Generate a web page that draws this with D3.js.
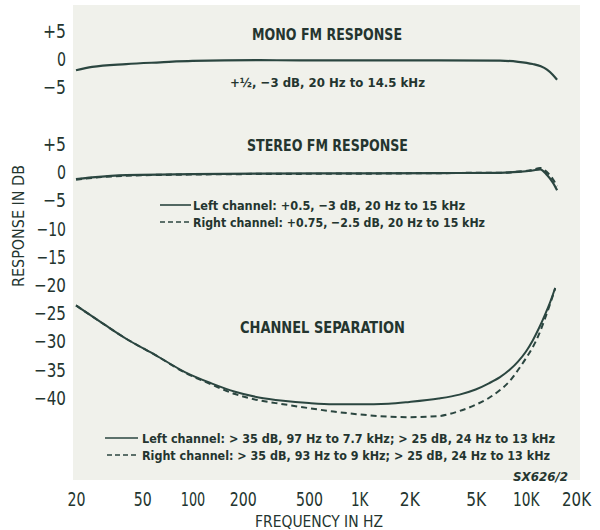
<!DOCTYPE html>
<html>
<head>
<meta charset="utf-8">
<script src="https://cdn.jsdelivr.net/npm/d3@7"></script>
<style>
  body { margin: 0; background: #fff; }
  text { font-family: "DejaVu Sans Condensed", "Liberation Sans Narrow", sans-serif; fill: #24352f; }
</style>
</head>
<body>
<div id="chart"></div>
<script>
// values
var xTicks = [20, 50, 100, 200, 500, 1000, 2000, 5000, 10000, 20000];
var xTickLabels = ['20', '50', '100', '200', '500', '1K', '2K', '5K', '10K', '20K'];
var monoTicks = [5, 0, -5];
var stereoTicks = [5, 0, -5, -10, -15, -20, -25, -30, -35, -40];

var monoFreq = [20, 25, 40, 64, 100, 254, 440, 1000, 3000, 7000, 9000, 11000, 12300, 13400, 14500, 15400];
var monoDb   = [-2, -1.4, -0.9, -0.6, -0.35, -0.2, -0.25, -0.25, -0.25, -0.3, -0.5, -0.9, -1.3, -1.9, -2.8, -3.7];

var stereoFreq  = [20, 25, 40, 100, 254, 1000, 3000, 7000, 9000, 11000, 12200, 13400, 14500, 15400];
var stereoLeft  = [-1.2, -0.9, -0.5, -0.35, -0.25, -0.2, -0.15, -0.1, 0.05, 0.3, 0.5, -0.5, -1.8, -3.2];
var stereoRight = [-1.3, -1.0, -0.6, -0.4, -0.3, -0.25, -0.15, -0.1, 0.1, 0.4, 0.75, 0, -1.2, -2.5];

var sepFreq  = [20, 30, 40, 60, 90, 130, 180, 250, 350, 500, 700, 1000, 1500, 2000, 3000, 4000, 5000, 6000, 7000, 8000, 9000, 10000, 11000, 12000, 13000, 14000, 15000];
var sepLeft  = [-23.6, -27.1, -29.5, -32.4, -35.4, -37.4, -38.9, -39.9, -40.5, -40.9, -41.1, -41.1, -41, -40.7, -40.1, -39.4, -38.5, -37.4, -36.3, -35, -33.5, -31.8, -29.8, -27.6, -25.3, -23, -20.5];
var sepRight = [-23.6, -27.1, -29.5, -32.4, -35.5, -37.6, -39.3, -40.4, -41.1, -41.8, -42.4, -42.9, -43.3, -43.4, -43.2, -42.3, -41.2, -40, -38.6, -37, -35, -33, -31, -28.7, -26, -23.3, -20.6];

var width = 600, height = 530;
var panel = {left: 73, top: 5, right: 580, bottom: 480};

var x = d3.scaleLog().domain([20, 20000]).range([76, 576]);
var yMono = d3.scaleLinear().domain([-5, 5]).range([87, 31]);
var yStereo = d3.scaleLinear().domain([-40, 5]).range([398, 144]);

function signed(d) {
  if (d > 0) return '+' + d;
  if (d < 0) return '\u2212' + Math.abs(d);
  return '0';
}

// rough printed width of a tick label (condensed typeface of the original)
function glyphWidth(s) {
  var w = 0;
  for (var i = 0; i < s.length; i++) {
    var c = s[i];
    if (c == '\u2212' || c == '+') w += 14;
    else if (c == '1') w += 6.5;
    else if (c == 'K') w += 11;
    else w += 9;
  }
  return w;
}

function squeeze(sel, len) {
  sel.attr('textLength', len).attr('lengthAdjust', 'spacingAndGlyphs');
}

var svg = d3.select('#chart').append('svg')
  .attr('width', width)
  .attr('height', height);

svg.append('rect')
  .attr('x', panel.left).attr('y', panel.top)
  .attr('width', panel.right - panel.left)
  .attr('height', panel.bottom - panel.top)
  .attr('fill', '#f0f1eb');

// y axes
var gMono = svg.append('g')
  .attr('transform', 'translate(66,0)')
  .call(d3.axisLeft(yMono).tickValues(monoTicks).tickSize(0).tickFormat(signed));
var gStereo = svg.append('g')
  .attr('transform', 'translate(66,0)')
  .call(d3.axisLeft(yStereo).tickValues(stereoTicks).tickSize(0).tickFormat(signed));
[gMono, gStereo].forEach(function(g) {
  g.select('.domain').remove();
  g.selectAll('text')
    .attr('x', 0)
    .style('font-size', '20px')
    .style('font-family', '"DejaVu Sans Condensed", sans-serif')
    .attr('fill', '#2a3b35')
    .each(function(d) { squeeze(d3.select(this), glyphWidth(signed(d))); });
});

// x axis
var gx = svg.append('g')
  .attr('transform', 'translate(0,489)')
  .call(d3.axisBottom(x).tickValues(xTicks).tickSize(0)
    .tickFormat(function(d, i) { return xTickLabels[i]; }));
gx.select('.domain').remove();
gx.selectAll('text')
  .style('font-size', '19px')
  .style('font-family', '"DejaVu Sans Condensed", sans-serif')
  .attr('fill', '#2a3b35')
  .each(function(d, i) { squeeze(d3.select(this), glyphWidth(xTickLabels[i])); });

// axis titles
var yTitle = svg.append('text')
  .attr('transform', 'translate(24,226) rotate(-90)')
  .attr('text-anchor', 'middle')
  .style('font-size', '16px')
  .text('RESPONSE IN DB');
squeeze(yTitle, 122);

var xTitle = svg.append('text')
  .attr('x', 319).attr('y', 527)
  .attr('text-anchor', 'middle')
  .style('font-size', '15px')
  .text('FREQUENCY IN HZ');
squeeze(xTitle, 128);

// curves
function drawLine(freqs, vals, yScale, dashed, w) {
  var pts = freqs.map(function(f, i) { return [f, vals[i]]; });
  var line = d3.line()
    .x(function(d) { return x(d[0]); })
    .y(function(d) { return yScale(d[1]); })
    .curve(d3.curveMonotoneX);
  svg.append('path')
    .datum(pts)
    .attr('d', line)
    .attr('fill', 'none')
    .attr('stroke', '#2b4640')
    .attr('stroke-width', w || 2)
    .attr('stroke-dasharray', dashed ? '6,4' : null);
}

drawLine(monoFreq, monoDb, yMono, false, 2.2);
drawLine(stereoFreq, stereoRight, yStereo, true, 2.2);
drawLine(stereoFreq, stereoLeft, yStereo, false, 2.2);
drawLine(sepFreq, sepRight, yStereo, true, 2);
drawLine(sepFreq, sepLeft, yStereo, false, 2);

// texts inside the panel
function label(txt, xp, yp, size, len, weight, style) {
  var t = svg.append('text')
    .attr('x', xp).attr('y', yp)
    .style('font-size', size + 'px')
    .style('font-weight', weight || 'normal')
    .style('font-style', style || 'normal')
    .text(txt);
  squeeze(t, len);
}

label('MONO FM RESPONSE', 252, 40, 16, 150, 'bold');
label('+\u00bd, \u22123 dB, 20 Hz to 14.5 kHz', 230, 87, 13, 195, 'bold');
label('STEREO FM RESPONSE', 247, 151, 16, 161, 'bold');
label('CHANNEL SEPARATION', 240, 333, 16, 165, 'bold');

// legend samples
function sample(x1, x2, yp, dashed) {
  svg.append('line')
    .attr('x1', x1).attr('x2', x2).attr('y1', yp).attr('y2', yp)
    .attr('stroke', '#2b4640').attr('stroke-width', 1.6)
    .attr('stroke-dasharray', dashed ? '5,3' : null);
}

sample(160, 191, 205, false);
sample(160, 191, 222, true);
label('Left channel: +0.5, \u22123 dB, 20 Hz to 15 kHz', 193, 210, 13, 272, 'bold');
label('Right channel: +0.75, \u22122.5 dB, 20 Hz to 15 kHz', 193, 227, 13, 292, 'bold');

sample(105, 138, 438, false);
sample(107, 138, 455, true);
label('Left channel: > 35 dB, 97 Hz to 7.7 kHz; > 25 dB, 24 Hz to 13 kHz', 142, 442.5, 12.5, 413, 'bold');
label('Right channel: > 35 dB, 93 Hz to 9 kHz; > 25 dB, 24 Hz to 13 kHz', 142, 459.5, 12.5, 408, 'bold');

label('SX626/2', 513, 481, 12, 55, 'bold', 'italic');
</script>
</body>
</html>
